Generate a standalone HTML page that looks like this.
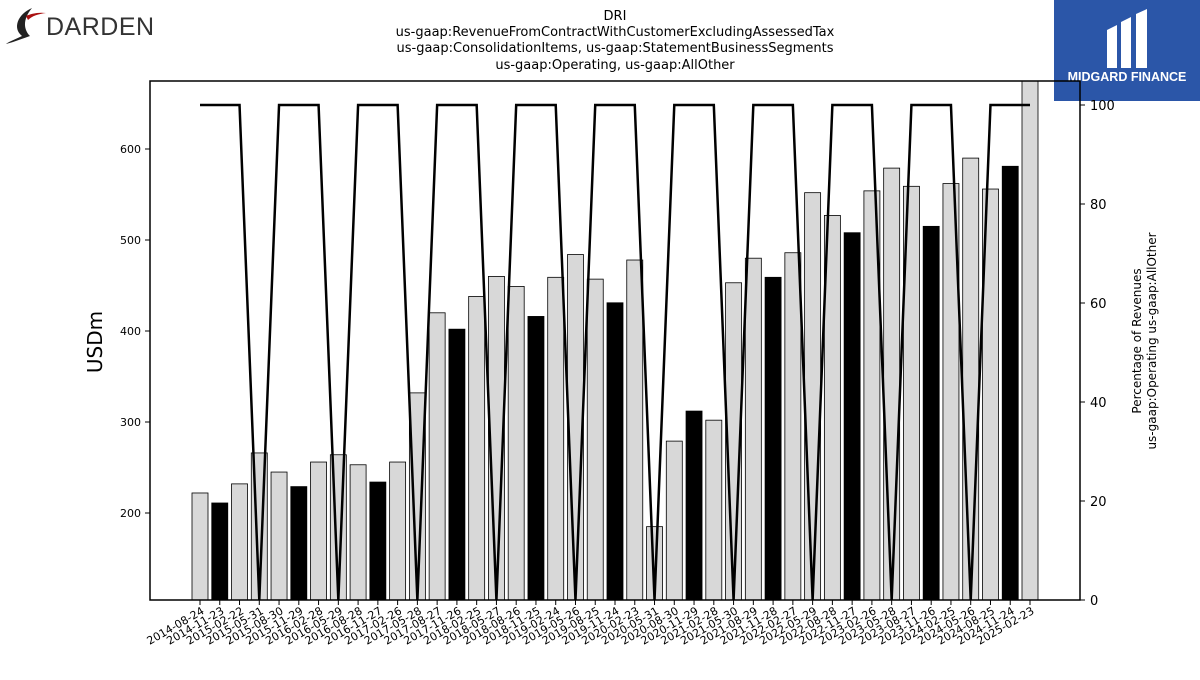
<!DOCTYPE html>
<html><head><meta charset="utf-8"><style>
body{margin:0;background:#fff;width:1200px;height:675px;overflow:hidden;font-family:"Liberation Sans","DejaVu Sans",sans-serif}
</style></head><body>
<svg id="chart" width="1200" height="675" xmlns="http://www.w3.org/2000/svg" font-family="DejaVu Sans, Liberation Sans, sans-serif">
<g>
<path d="M32 8 C18 14 12 28 22 36 C14 40 8 42 6 44 C14 42 24 38 30 36 C24 30 22 20 32 8Z" fill="#222"/>
<path d="M26 16 C30 14 38 12 46 13 C38 14 32 16 28 20Z" fill="#a11"/>
<text x="46" y="35" font-size="25" fill="#333" font-family="Liberation Sans, sans-serif" letter-spacing="0.5">DARDEN</text>
</g>
<g>
<rect x="1054" y="0" width="146" height="101" fill="#2b56a8"/>
<path d="M1107 30 L1117 25 L1117 68 L1107 68Z M1121 22 L1131 17 L1131 68 L1121 68Z M1136 14 L1147 9 L1147 68 L1136 68Z" fill="#fff"/>
<text x="1127" y="81" font-size="12.5" font-weight="bold" fill="#fff" text-anchor="middle" font-family="Liberation Sans, sans-serif">MIDGARD FINANCE</text>
</g>
<g font-size="13" text-anchor="middle" fill="#000">
<text x="615" y="20">DRI</text>
<text x="615" y="36">us-gaap:RevenueFromContractWithCustomerExcludingAssessedTax</text>
<text x="615" y="52">us-gaap:ConsolidationItems, us-gaap:StatementBusinessSegments</text>
<text x="615" y="69">us-gaap:Operating, us-gaap:AllOther</text>
</g>
<defs><clipPath id="pc"><rect x="150" y="81" width="930" height="519"/></clipPath></defs>
<g id="bars" clip-path="url(#pc)"></g>
<g id="line" clip-path="url(#pc)"></g>
<g id="axes"></g>
<text transform="translate(102,342) rotate(-90)" font-size="20" text-anchor="middle">USDm</text>
<text transform="translate(1141,341) rotate(-90)" font-size="12" text-anchor="middle">Percentage of Revenues</text>
<text transform="translate(1156,341) rotate(-90)" font-size="12" text-anchor="middle">us-gaap:Operating us-gaap:AllOther</text>
</svg>
<script>
const categories=["2014-08-24","2014-11-23","2015-02-22","2015-05-31","2015-08-30","2015-11-29","2016-02-28","2016-05-29","2016-08-28","2016-11-27","2017-02-26","2017-05-28","2017-08-27","2017-11-26","2018-02-25","2018-05-27","2018-08-26","2018-11-25","2019-02-24","2019-05-26","2019-08-25","2019-11-24","2020-02-23","2020-05-31","2020-08-30","2020-11-29","2021-02-28","2021-05-30","2021-08-29","2021-11-28","2022-02-27","2022-05-29","2022-08-28","2022-11-27","2023-02-26","2023-05-28","2023-08-27","2023-11-26","2024-02-25","2024-05-26","2024-08-25","2024-11-24","2025-02-23"];
const revenues=[222,211,232,266,245,229,256,264,253,234,256,332,420,402,438,460,449,416,459,484,457,431,478,185,279,312,302,453,480,459,486,552,527,508,554,579,559,515,562,590,556,581,700];
const highlighted=[1,5,9,13,17,21,25,29,33,37,41];
const percentages=[100,100,100,0,100,100,100,0,100,100,100,0,100,100,100,0,100,100,100,0,100,100,100,0,100,100,100,0,100,100,100,0,100,100,100,0,100,100,100,0,100,100,100];
const leftTicks=[200,300,400,500,600];
const rightTicks=[0,20,40,60,80,100];

const NS="http://www.w3.org/2000/svg";
const L=150,R=1080,T=81,B=600;
const x=i=>200+i*(1030-200)/(categories.length-1);
const y=v=>513-(v-200)*0.91;
const y2=v=>600-v*4.95;
function mk(tag,attrs,parent){const e=document.createElementNS(NS,tag);for(const k in attrs)e.setAttribute(k,attrs[k]);parent.appendChild(e);return e;}
const bars=document.getElementById('bars'),line=document.getElementById('line'),axes=document.getElementById('axes');
revenues.forEach((v,i)=>{
  const r=mk('rect',{x:x(i)-8,y:y(v),width:16,height:B-y(v),fill:highlighted.includes(i)?'#000':'#d8d8d8',stroke:'#000','stroke-width':0.8},bars);
  
  
});
const pl=mk('polyline',{points:percentages.map((p,i)=>x(i)+','+y2(p)).join(' '),fill:'none',stroke:'#000','stroke-width':2.5},line);


const frame=mk('rect',{x:L,y:T,width:R-L,height:B-T,fill:'none',stroke:'#000','stroke-width':1.5},axes);


leftTicks.forEach(t=>{
  mk('line',{x1:L-5,x2:L,y1:y(t),y2:y(t),stroke:'#000'},axes);
  const tx=mk('text',{x:L-9,y:y(t)+4,'font-size':11,'text-anchor':'end'},axes);tx.textContent=t;
  
  
});
rightTicks.forEach(t=>{
  mk('line',{x1:R,x2:R+5,y1:y2(t),y2:y2(t),stroke:'#000'},axes);
  const tx=mk('text',{x:R+10,y:y2(t)+5,'font-size':13},axes);tx.textContent=t;
  
  
});
categories.forEach((c,i)=>{
  mk('line',{x1:x(i),x2:x(i),y1:B,y2:B+5,stroke:'#000'},axes);
  const tx=mk('text',{transform:`translate(${x(i)+5},${B+13}) rotate(-30)`,'font-size':11,'text-anchor':'end'},axes);tx.textContent=c;
  
  
});
</script>
</body></html>
